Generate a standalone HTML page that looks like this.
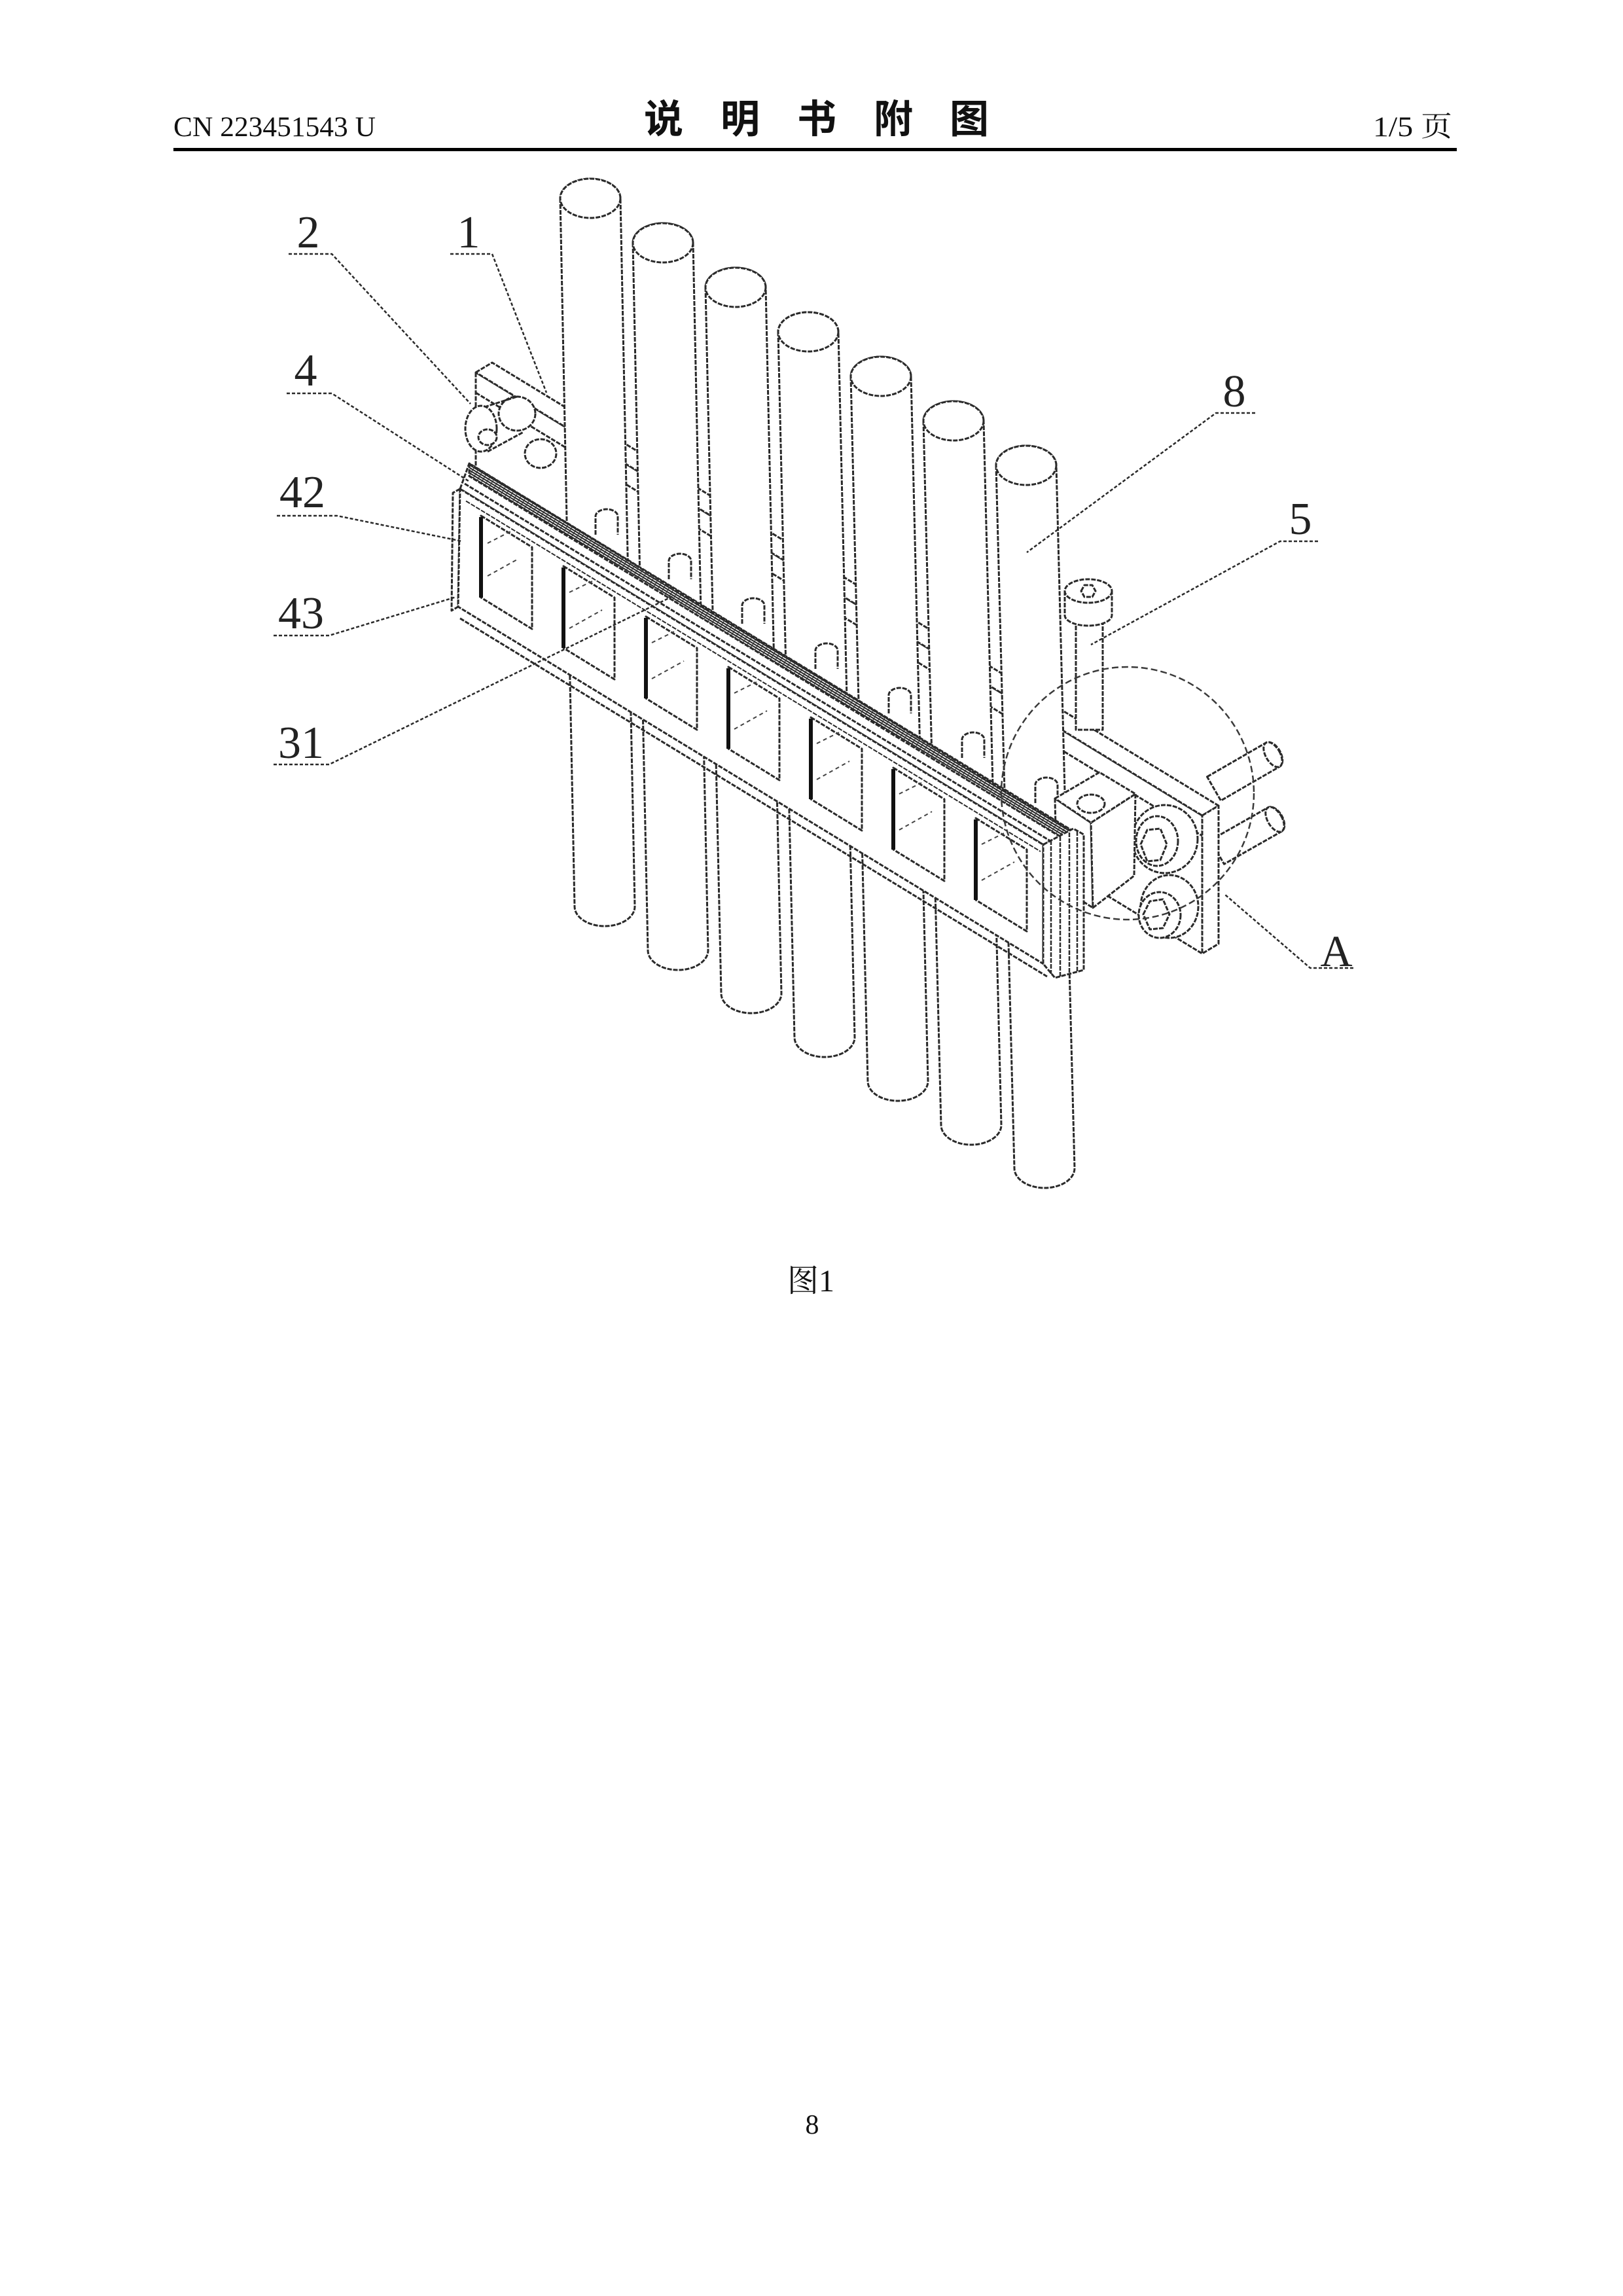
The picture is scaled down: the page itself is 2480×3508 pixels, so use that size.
<!DOCTYPE html>
<html><head><meta charset="utf-8"><style>
html,body{margin:0;padding:0;background:#fff;}
svg{display:block;}
</style></head><body>
<svg xmlns="http://www.w3.org/2000/svg" width="2480" height="3508" viewBox="0 0 2480 3508">
<defs>
<pattern id="hatch" width="7" height="7" patternUnits="userSpaceOnUse" patternTransform="rotate(31)">
<rect width="7" height="7" fill="#fff"/>
<path d="M0 1.5H7M0 5H7" stroke="#222" stroke-width="2"/>
<path d="M2 0V7" stroke="#333" stroke-width="1.2"/>
</pattern>
</defs>
<rect width="2480" height="3508" fill="#fff"/>

<!-- Header -->
<text x="265" y="208" font-family="Liberation Serif, serif" font-size="43" textLength="309" lengthAdjust="spacingAndGlyphs" fill="#111">CN 223451543 U</text>
<g font-family="Noto Sans CJK SC, WenQuanYi Zen Hei, sans-serif" font-size="60" font-weight="700" fill="#111" text-anchor="middle">
<text x="1014" y="203">说</text>
<text x="1131" y="203">明</text>
<text x="1248" y="203">书</text>
<text x="1365" y="203">附</text>
<text x="1481" y="203">图</text>
</g>
<text x="2098" y="208" font-family="Liberation Serif, Noto Serif CJK SC, serif" font-size="43" textLength="121" lengthAdjust="spacingAndGlyphs" fill="#111">1/5 页</text>
<rect x="265" y="226" width="1961" height="5" fill="#000"/>

<g stroke="#2a2a2a" stroke-width="3" fill="#fff" stroke-linejoin="round" stroke-dasharray="7 2">

<!-- rods behind right plate -->
<path d="M1844.5,1186.8 L1934.5,1134.8 A12 21 -30 0 1 1955.5,1171.2 L1865.5,1223.2 Z"/>
<ellipse cx="1945" cy="1153" rx="11" ry="21" transform="rotate(-30 1945 1153)"/>
<path d="M1849.5,1283.8 L1937.5,1233.8 A12 21 -30 0 1 1958.5,1270.2 L1870.5,1320.2 Z"/>
<ellipse cx="1948" cy="1252" rx="11" ry="21" transform="rotate(-30 1948 1252)"/>

<!-- rear plate (1) -->
<polygon points="727,569 1837,1246 1837,1457 727,780"/>
<polygon points="727,569 752,554 1862,1231 1837,1246"/>
<polygon points="1837,1246 1862,1231 1862,1442 1837,1457"/>
<path d="M727,600 L1837,1277" fill="none"/>

<!-- left end bolts (2) -->
<ellipse cx="826" cy="693" rx="24" ry="22"/>
<ellipse cx="790" cy="632" rx="28" ry="26"/>
<path d="M740,622 L790,606 M745,690 L800,660" fill="none"/>
<ellipse cx="735" cy="655" rx="24" ry="35"/>
<ellipse cx="745" cy="668" rx="14" ry="12"/>

<!-- bolt 5 -->
<rect x="1644" y="935" width="41" height="180"/>
<path d="M1627,903 L1627,940 A36 16 0 0 0 1699,940 L1699,903"/>
<ellipse cx="1663" cy="903" rx="36" ry="18"/>
<polygon points="1652,903 1657,894 1669,894 1674,903 1669,912 1657,912"/>

<!-- tubes (8) -->
<path d="M856,303 L878,1385 A46 30 0 0 0 970,1385 L948,303 A46 30 0 0 0 856,303Z"/>
<ellipse cx="902" cy="303" rx="46" ry="30"/>
<path d="M967,371 L990,1452 A46 30 0 0 0 1082,1452 L1059,371 A46 30 0 0 0 967,371Z"/>
<ellipse cx="1013" cy="371" rx="46" ry="30"/>
<path d="M1078,439 L1102,1518 A46 30 0 0 0 1194,1518 L1170,439 A46 30 0 0 0 1078,439Z"/>
<ellipse cx="1124" cy="439" rx="46" ry="30"/>
<path d="M1189,507 L1214,1585 A46 30 0 0 0 1306,1585 L1281,507 A46 30 0 0 0 1189,507Z"/>
<ellipse cx="1235" cy="507" rx="46" ry="30"/>
<path d="M1300,575 L1326,1652 A46 30 0 0 0 1418,1652 L1392,575 A46 30 0 0 0 1300,575Z"/>
<ellipse cx="1346" cy="575" rx="46" ry="30"/>
<path d="M1411,643 L1438,1719 A46 30 0 0 0 1530,1719 L1503,643 A46 30 0 0 0 1411,643Z"/>
<ellipse cx="1457" cy="643" rx="46" ry="30"/>
<path d="M1522,711 L1550,1785 A46 30 0 0 0 1642,1785 L1614,711 A46 30 0 0 0 1522,711Z"/>
<ellipse cx="1568" cy="711" rx="46" ry="30"/>

<!-- knobs along rail -->
<path d="M910,817 V789 A17 11 0 0 1 944,789 V817"/>
<path d="M1022,885 V857 A17 11 0 0 1 1056,857 V885"/>
<path d="M1134,953 V925 A17 11 0 0 1 1168,925 V953"/>
<path d="M1246,1022 V994 A17 11 0 0 1 1280,994 V1022"/>
<path d="M1358,1090 V1062 A17 11 0 0 1 1392,1062 V1090"/>
<path d="M1470,1158 V1130 A17 11 0 0 1 1504,1130 V1158"/>
<path d="M1582,1227 V1199 A17 11 0 0 1 1616,1199 V1227"/>

<!-- washers / bolts on right plate -->
<ellipse cx="1787" cy="1385" rx="44" ry="48"/>
<ellipse cx="1772" cy="1398" rx="32" ry="35"/>
<polygon points="1747,1397 1757,1377 1777,1374 1787,1397 1777,1418 1757,1420"/>
<ellipse cx="1780" cy="1282" rx="50" ry="52"/>
<ellipse cx="1768" cy="1285" rx="32" ry="38"/>
<polygon points="1743,1290 1753,1268 1773,1266 1783,1290 1773,1314 1753,1316"/>

<!-- end block -->
<polygon points="1612,1220 1667,1257 1670,1387 1615,1352"/>
<polygon points="1667,1257 1735,1213 1733,1338 1670,1387"/>
<polygon points="1612,1220 1680,1180 1735,1213 1667,1257"/>
<ellipse cx="1667" cy="1228" rx="21" ry="14"/>

<!-- top face of frame assembly -->
<polygon points="703,747 717,708 1640,1270 1594,1290.5"/>
<path d="M710,739 L1610,1288" fill="none"/>
<!-- hatched strip (31) -->
<polygon points="717,708.5 1637,1269.7 1637,1288.7 717,727.5" fill="url(#hatch)"/>

<!-- frame left end -->
<polygon points="703,747 692,753 690,933 700,927"/>
<!-- front frame (42) -->
<polygon points="703,747 1594,1290.5 1594,1472.5 700,927"/>
<path d="M712,765.5 L1590,1301" fill="none" stroke-width="2"/>
<path d="M703,944.8 L1600,1492" fill="none"/>

<!-- frame windows (43) -->
<polygon points="735,788 813,836 813,961 735,913"/>
<polygon points="861,865 939,913 939,1038 861,990"/>
<polygon points="987,942 1065,990 1065,1115 987,1067"/>
<polygon points="1113,1019 1191,1067 1191,1192 1113,1144"/>
<polygon points="1239,1096 1317,1144 1317,1269 1239,1221"/>
<polygon points="1365,1173 1443,1221 1443,1346 1365,1298"/>
<polygon points="1491,1250 1569,1298 1569,1423 1491,1375"/>
</g>

<g stroke="#111" stroke-width="6" fill="none">
<path d="M735,790 V913 M861,867 V990 M987,944 V1067 M1113,1021 V1144 M1239,1098 V1221 M1365,1175 V1298 M1491,1252 V1375"/>
</g>

<g stroke="#444" stroke-width="2" fill="none" stroke-dasharray="6 5">
<path d="M745,880 L790,855 M745,830 L780,812 M870,960 L920,932 M870,905 L905,888 M996,1037 L1045,1010 M996,982 L1030,965 M1122,1114 L1172,1086 M1122,1059 L1156,1042 M1248,1191 L1298,1163 M1248,1136 L1282,1119 M1374,1268 L1424,1240 M1374,1213 L1408,1196 M1500,1345 L1550,1317 M1500,1290 L1534,1273"/>
</g>

<!-- frame right end layers -->
<g stroke="#2a2a2a" stroke-width="3" fill="#fff" stroke-dasharray="7 2">
<polygon points="1594,1290.5 1640,1266 1656,1275 1656,1482 1612,1494 1594,1472.5"/>
<path d="M1606,1284 V1488 M1620,1278 V1492 M1634,1272 V1489 M1646,1270 V1485" fill="none" stroke-width="2.5"/>
</g>

<!-- detail circle A -->
<circle cx="1723" cy="1212" r="193" fill="none" stroke="#3a3a3a" stroke-width="2.5" stroke-dasharray="10 5"/>

<!-- leaders -->
<g stroke="#2a2a2a" stroke-width="2.5" fill="none" stroke-dasharray="5 3">
<path d="M441,388 H507 L719,617"/>
<path d="M688,388 H752 L835,600"/>
<path d="M438,601 H507 L716,735"/>
<path d="M423,788 H515 L706,827"/>
<path d="M418,971 H503 L697,912"/>
<path d="M418,1168 H503 L1030,910"/>
<path d="M1918,631 H1858 L1569,844"/>
<path d="M2014,827 H1956 L1667,985"/>
<path d="M2068,1479 H2002 L1872,1367"/>
</g>

<!-- labels -->
<g font-family="Liberation Serif, serif" font-size="70" fill="#222" text-anchor="middle">
<text x="471" y="378">2</text>
<text x="716" y="378">1</text>
<text x="467" y="589">4</text>
<text x="462" y="775">42</text>
<text x="460" y="960">43</text>
<text x="460" y="1158">31</text>
<text x="1886" y="621">8</text>
<text x="1987" y="816">5</text>
<text x="2042" y="1476" font-size="68">A</text>
</g>

<!-- caption -->
<text x="1203" y="1973" font-family="Liberation Serif, Noto Serif CJK SC, serif" font-size="48" fill="#111">图1</text>
<!-- page number -->
<text x="1241" y="3260" font-family="Liberation Serif, serif" font-size="42" fill="#111" text-anchor="middle">8</text>
</svg>
</body></html>
